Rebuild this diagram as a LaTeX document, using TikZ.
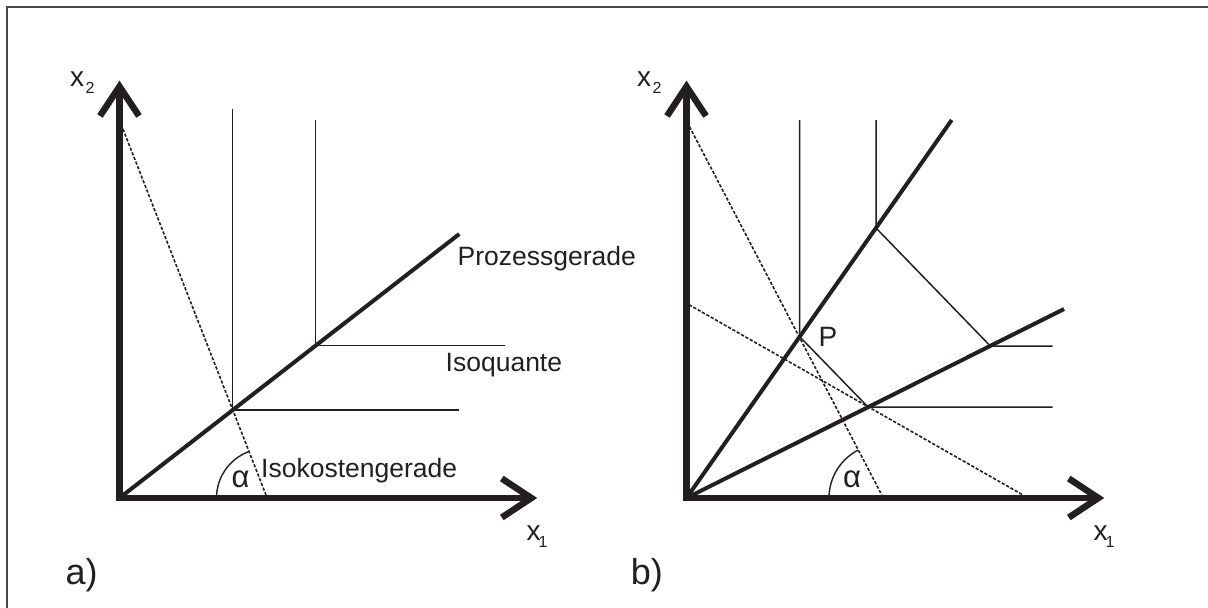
\documentclass[tikz,border=0pt]{standalone}
\usepackage{fontspec}
\setmainfont{Liberation Sans}
\definecolor{ink}{RGB}{35,31,32}
\definecolor{framec}{RGB}{70,70,70}
\begin{document}
\begin{tikzpicture}[x=1pt,y=-1pt,
  axisline/.style={draw=ink,line width=6.5pt,line join=miter,line cap=butt},
  tipline/.style={draw=ink,line width=6.5pt,line join=miter,miter limit=10,line cap=butt},
  proc/.style={draw=ink,line width=4pt},
  isoq/.style={draw=ink,line width=1.5pt},
  cost/.style={draw=ink,line width=1.6pt,dash pattern=on 3.2pt off 1.8pt},
  anglearc/.style={draw=ink,line width=1.4pt},
  lbl/.style={inner sep=0pt,anchor=base west,text=ink,font=\fontsize{26.5}{30}\selectfont},
  xlbl/.style={inner sep=0pt,anchor=base west,text=ink,font=\fontsize{28}{30}\selectfont},
  albl/.style={inner sep=0pt,anchor=base,text=ink,font=\fontsize{31}{34}\selectfont},
  plbl/.style={inner sep=0pt,anchor=base west,text=ink,font=\fontsize{28}{30}\selectfont},
  sublbl/.style={inner sep=0pt,anchor=base west,text=ink,font=\fontsize{16}{18}\selectfont},
  panellbl/.style={inner sep=0pt,anchor=base west,text=ink,font=\fontsize{36}{40}\selectfont}
]
\useasboundingbox (0,0) rectangle (1208,608);
% frame
\coordinate (fbl) at (7,608);
\coordinate (ftl) at (7,7);
\coordinate (ftr) at (1208,7);
\draw[framec,line width=1.4pt] (fbl) -- (ftl) -- (ftr);

% ================= panel a =================
\coordinate (Oa) at (119.5,498);
\coordinate (Ya) at (119.5,86.5);
\coordinate (Xa) at (531.3,498);
\coordinate (Yaw1) at (100,116);
\coordinate (Yaw2) at (139,116);
\coordinate (Xaw1) at (501.8,478.5);
\coordinate (Xaw2) at (501.8,517.5);
\draw[axisline] (Ya) -- (Oa) -- (Xa);
\draw[tipline] (Yaw1) -- (Ya) -- (Yaw2);
\draw[tipline] (Xaw1) -- (Xa) -- (Xaw2);

% isoquants
\coordinate (A1top) at (232.7,108.5);
\coordinate (A1) at (232.7,410);
\coordinate (A1r) at (459.2,410);
\coordinate (A2top) at (315.7,120);
\coordinate (A2) at (315.7,345.6);
\coordinate (A2r) at (505,345.6);
\draw[isoq] (A1top) -- (A1) -- (A1r);
\draw[isoq] (A2top) -- (A2) -- (A2r);

% isocost
\coordinate (Ca1) at (123,129);
\coordinate (Ca2) at (266,495);
\draw[cost] (Ca1) -- (Ca2);

% process line
\coordinate (PEa) at (459.3,234);
\draw[proc] (Oa) -- (PEa);

% angle
\coordinate (ACa) at (266,498);
\draw[anglearc] (ACa) ++(180:49.5pt) arc[start angle=180,end angle=111.2,radius=49.5pt];

% labels a
\node[lbl] (lprozess) at (457.5,265) {Prozessgerade};
\node[lbl] (lisoq) at (445.5,371.6) {Isoquante};
\node[lbl] (liso) at (261,477.3) {Isokostengerade};
\node[albl] (alpha1) at (240.5,487) {α};
\node[xlbl] (x2a) at (70,86.7) {x};
\node[sublbl] (x2asub) at (85.5,93.3) {2};
\node[xlbl] (x1a) at (526.5,540.7) {x};
\node[sublbl] (x1asub) at (538.5,547.3) {1};
\node[panellbl] (pa) at (65.3,584) {a)};

% ================= panel b =================
\coordinate (Ob) at (686.5,498);
\coordinate (Yb) at (686.5,86.5);
\coordinate (Xb) at (1098.3,498);
\coordinate (Ybw1) at (667,116);
\coordinate (Ybw2) at (706,116);
\coordinate (Xbw1) at (1068.8,478.5);
\coordinate (Xbw2) at (1068.8,517.5);
\draw[axisline] (Yb) -- (Ob) -- (Xb);
\draw[tipline] (Ybw1) -- (Yb) -- (Ybw2);
\draw[tipline] (Xbw1) -- (Xb) -- (Xbw2);

% isoquants b
\coordinate (B1top) at (799.7,120);
\coordinate (P) at (799.7,336.7);
\coordinate (Q) at (868,407);
\coordinate (Qr) at (1052.5,407);
\coordinate (B2top) at (876,120);
\coordinate (R) at (876,228);
\coordinate (S) at (990.3,346);
\coordinate (Sr) at (1052.5,346);
\draw[isoq] (B1top) -- (P) -- (Q) -- (Qr);
\draw[isoq] (B2top) -- (R) -- (S) -- (Sr);

% isocost lines b
\coordinate (Cb1) at (689.5,126.7);
\coordinate (Cb2) at (881.8,495);
\coordinate (Cb3) at (689,304.7);
\coordinate (Cb4) at (1023,495);
\draw[cost] (Cb1) -- (Cb2);
\draw[cost] (Cb3) -- (Cb4);

% process lines b
\coordinate (PEb1) at (951.7,120);
\coordinate (PEb2) at (1064.1,309);
\draw[proc] (Ob) -- (PEb1);
\draw[proc] (Ob) -- (PEb2);

% angle b
\coordinate (ACb) at (883,498);
\draw[anglearc] (ACb) ++(180:54pt) arc[start angle=180,end angle=117.6,radius=54pt];

% labels b
\node[albl] (alpha2) at (852,487) {α};
\node[plbl] (lP) at (818.5,346.7) {P};
\node[xlbl] (x2b) at (637,86.7) {x};
\node[sublbl] (x2bsub) at (652.5,93.3) {2};
\node[xlbl] (x1b) at (1093.5,540.7) {x};
\node[sublbl] (x1bsub) at (1105.5,547.3) {1};
\node[panellbl] (pb) at (630.7,584) {b)};
\end{tikzpicture}
\end{document}
